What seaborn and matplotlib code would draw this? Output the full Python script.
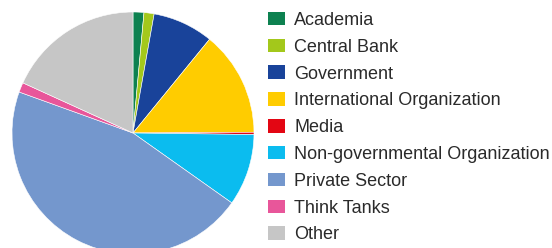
import matplotlib
matplotlib.use('Agg')
import matplotlib.pyplot as plt
import seaborn as sns
from matplotlib.patches import Patch

sns.set_theme(style='white')
plt.rcParams['font.family'] = ['Liberation Sans', 'DejaVu Sans']

# 数据
categories = ['Academia', 'Central Bank', 'Government', 'International Organization',
              'Media', 'Non-governmental Organization', 'Private Sector', 'Think Tanks', 'Other']
shares = [1.45, 1.35, 8.1, 14.0, 0.3, 9.6, 45.7, 1.3, 18.2]
colors = ['#0d8150', '#a3c81b', '#19439a', '#ffcc00', '#e30613',
          '#0bbcef', '#7497cd', '#e8569a', '#c6c6c6']

fig = plt.figure(figsize=(5.52, 2.48), dpi=100)

# 饼图：圆心约 (133, 133)，半径约 121 像素
r = 121
ax = fig.add_axes([(133 - r) / 552, (115 - r) / 248, 2 * r / 552, 2 * r / 248])
ax.pie(shares, colors=colors, startangle=90, counterclock=False,
       wedgeprops=dict(edgecolor='white', linewidth=0.4))
ax.set_xlim(-1, 1)
ax.set_ylim(-1, 1)
ax.set_aspect('equal')
ax.axis('off')

# 图例
handles = [Patch(facecolor=c, edgecolor='none') for c in colors]
fig.legend(handles, categories, loc='upper left', bbox_to_anchor=(268 / 552, 1 - 11.8 / 248),
           frameon=False, fontsize=13, handlelength=0.94, handleheight=0.78,
           handletextpad=0.5, labelspacing=0.54, borderpad=0, borderaxespad=0,
           labelcolor='#2a2a2a')

fig.savefig('out.png', dpi=100)
